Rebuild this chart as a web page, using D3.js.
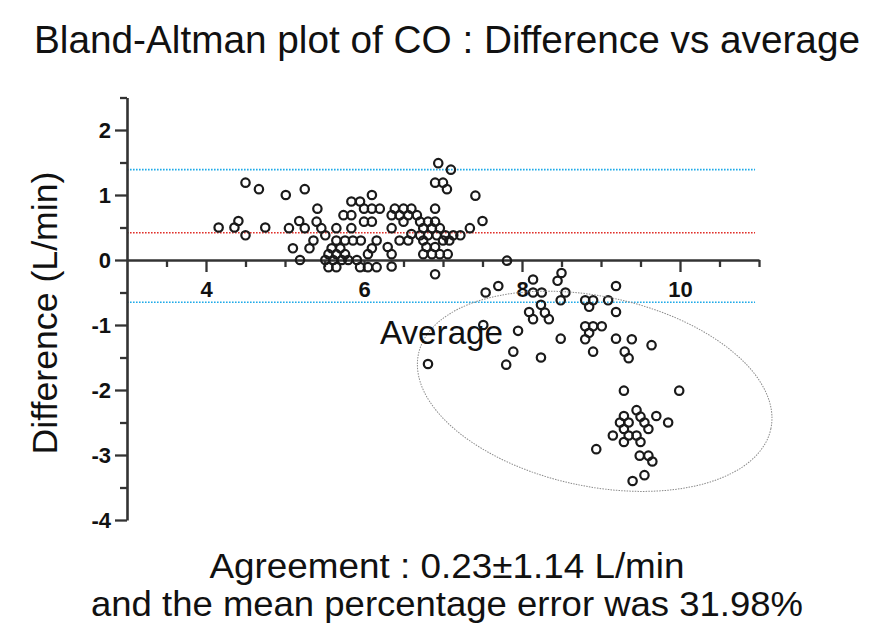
<!DOCTYPE html>
<html>
<head>
<meta charset="utf-8">
<script src="https://cdn.jsdelivr.net/npm/d3@7"></script>
<style>
  html, body { margin: 0; padding: 0; background: #fff; }
  svg { display: block; font-family: "Liberation Sans", Arial, sans-serif; }
</style>
</head>
<body>
<svg id="chart" width="874" height="627"></svg>
<script>
// ---- data ----
const averages = [
  4.16,4.36,4.41,4.50,4.50,4.67,4.75,5.01,5.05,5.10,5.18,5.19,
  5.25,6.10,5.41,5.84,5.95,6.00,6.10,6.20,5.74,5.84,6.00,6.10,5.40,5.25,5.46,5.65,5.84,5.51,
  5.36,5.65,5.76,5.86,5.96,6.16,5.31,5.59,5.70,6.10,5.55,5.65,5.76,6.05,5.51,5.61,5.72,5.80,5.91,
  5.55,5.65,5.95,6.05,6.16,
  6.94,7.10,6.90,7.00,7.05,7.41,6.39,6.50,6.60,6.90,6.35,6.45,6.56,6.67,6.50,6.71,6.81,6.90,7.50,
  6.35,6.75,6.86,6.96,7.34,6.60,6.71,6.81,6.92,7.03,7.13,7.22,6.45,6.56,6.75,7.00,7.08,6.30,6.79,6.90,
  6.35,6.75,6.86,6.96,7.06,6.35,6.90,
  7.81,8.50,8.45,8.14,7.70,7.54,8.14,8.25,8.55,8.49,8.09,8.24,8.29,8.14,8.34,8.80,8.90,8.85,9.09,9.19,9.19,
  7.51,8.80,8.90,9.01,8.85,8.80,9.19,7.95,8.49,7.89,8.90,8.24,7.80,6.81,9.39,9.30,9.35,9.64,
  9.29,9.99,9.45,9.29,9.50,9.70,9.24,9.35,9.55,9.85,9.29,9.60,9.15,9.35,9.45,9.29,9.50,8.94,9.49,9.60,9.65,9.55,9.40
];
const differences = [
  0.50,0.50,0.60,0.38,1.19,1.09,0.50,1.00,0.49,0.18,0.60,0.00,
  1.09,1.00,0.79,0.90,0.90,0.79,0.79,0.79,0.69,0.69,0.59,0.59,0.59,0.49,0.49,0.49,0.49,0.38,
  0.30,0.30,0.30,0.30,0.30,0.30,0.18,0.18,0.18,0.18,0.09,0.09,0.09,0.09,0.00,0.00,0.00,0.00,0.00,
  -0.11,-0.11,-0.11,-0.11,-0.11,
  1.49,1.39,1.19,1.19,1.09,0.99,0.79,0.79,0.79,0.79,0.69,0.69,0.69,0.69,0.59,0.59,0.59,0.59,0.60,
  0.49,0.49,0.49,0.49,0.49,0.40,0.38,0.38,0.38,0.38,0.38,0.38,0.30,0.30,0.30,0.30,0.30,0.20,0.20,0.20,
  0.09,0.09,0.09,0.09,0.09,-0.10,-0.22,
  -0.01,-0.20,-0.32,-0.30,-0.40,-0.50,-0.50,-0.50,-0.50,-0.62,-0.80,-0.69,-0.81,-0.91,-0.91,-0.62,-0.62,-0.72,-0.62,-0.40,-0.80,
  -1.00,-1.02,-1.02,-1.02,-1.12,-1.22,-1.21,-1.09,-1.21,-1.41,-1.41,-1.50,-1.61,-1.60,-1.22,-1.41,-1.51,-1.31,
  -2.01,-2.01,-2.31,-2.40,-2.41,-2.40,-2.50,-2.50,-2.50,-2.50,-2.60,-2.60,-2.70,-2.70,-2.70,-2.80,-2.80,-2.91,-3.01,-3.01,-3.10,-3.31,-3.40
];
const meanDiff = 0.42;
const upperLimit = 1.39;
const lowerLimit = -0.65;
const xMajorTicks = [4, 6, 8, 10];
const xMinorTicks = [3.5,4.5,5,5.5,6.5,7,7.5,8.5,9,9.5,10.5,11];
const yMajorTicks = [2, 1, 0, -1, -2, -3, -4];
const yMinorTicks = [2.5, 1.5, 0.5, -0.5, -1.5, -2.5, -3.5];
const ellipseCenter = [8.92, -2.02];
const ellipseRadii = [2.28, 1.46];
const ellipseAngle = 12;
const titleText = "Bland-Altman plot of CO : Difference vs average";
const xLabelText = "Average";
const yLabelText = "Difference (L/min)";
const noteLines = ["Agreement : 0.23\u00b11.14 L/min", "and the mean percentage error was 31.98%"];

// ---- scales ----
const svg = d3.select("#chart");
const x = d3.scaleLinear().domain([3, 11]).range([127, 759]);
const y = d3.scaleLinear().domain([-4, 2.5]).range([520, 97.5]);
const axisColor = "#333";

// reference lines
const lines = [
  {v: upperLimit, c: "#1faae8"},
  {v: meanDiff, c: "#e0302a"},
  {v: lowerLimit, c: "#1faae8"}
];
svg.append("g").selectAll("line").data(lines).join("line")
  .attr("x1", x(3)).attr("x2", x(10.95))
  .attr("y1", d => y(d.v)).attr("y2", d => y(d.v))
  .attr("stroke", d => d.c).attr("stroke-width", 1.6)
  .attr("stroke-dasharray", "1.6,1.4");

// axes
function styleAxis(g) {
  g.select(".domain").attr("stroke", axisColor).attr("stroke-width", 2.6);
  g.selectAll(".tick line").attr("stroke", axisColor).attr("stroke-width", 2.3);
  g.selectAll(".tick text").attr("fill", "#111")
    .style("font-size", "22px").style("font-weight", "bold")
    .style("font-family", '"Liberation Sans", Arial, sans-serif');
}
const gx = svg.append("g").attr("transform", `translate(0,${y(0)})`)
  .call(d3.axisBottom(x).tickValues(xMajorTicks).tickSize(12).tickSizeOuter(0).tickPadding(9).tickFormat(d => String(d)));
styleAxis(gx);
const gx2 = svg.append("g").attr("transform", `translate(0,${y(0)})`)
  .call(d3.axisBottom(x).tickValues(xMinorTicks).tickSize(7).tickSizeOuter(0).tickFormat(""));
styleAxis(gx2);
gx2.select(".domain").remove();

const gy = svg.append("g").attr("transform", `translate(${x(3)},0)`)
  .call(d3.axisLeft(y).tickValues(yMajorTicks).tickSize(12).tickSizeOuter(0).tickPadding(4).tickFormat(d => String(d)));
styleAxis(gy);
const gy2 = svg.append("g").attr("transform", `translate(${x(3)},0)`)
  .call(d3.axisLeft(y).tickValues(yMinorTicks).tickSize(7).tickSizeOuter(0).tickFormat(""));
styleAxis(gy2);
gy2.select(".domain").remove();

// points
svg.append("g").selectAll("circle").data(averages.map((a, i) => [a, differences[i]])).join("circle")
  .attr("cx", d => x(d[0])).attr("cy", d => y(d[1])).attr("r", 4.2)
  .attr("fill", "none").attr("stroke", "#1a1a1a").attr("stroke-width", 2.2);

// ellipse annotation
svg.append("ellipse")
  .attr("transform", `translate(${x(ellipseCenter[0])},${y(ellipseCenter[1])}) rotate(${ellipseAngle})`)
  .attr("rx", x(ellipseRadii[0]) - x(0)).attr("ry", y(0) - y(ellipseRadii[1]))
  .attr("fill", "none").attr("stroke", "#8a8a8a").attr("stroke-width", 1)
  .attr("stroke-dasharray", "1.5,1.2");

// x label
svg.append("text").attr("x", 380).attr("y", 344).text(xLabelText)
  .style("font-size", "33px").attr("fill", "#111")
  .attr("textLength", 123).attr("lengthAdjust", "spacingAndGlyphs");

// y label
svg.append("text").attr("transform", "translate(57,313) rotate(-90)")
  .attr("text-anchor", "middle").text(yLabelText)
  .style("font-size", "35px").attr("fill", "#111")
  .attr("textLength", 283).attr("lengthAdjust", "spacingAndGlyphs");

// title
svg.append("text").attr("x", 447).attr("y", 53).attr("text-anchor", "middle").text(titleText)
  .style("font-size", "38px").attr("fill", "#111")
  .attr("textLength", 826).attr("lengthAdjust", "spacingAndGlyphs");

// bottom notes
const noteWidths = [475, 712];
svg.append("g").selectAll("text").data(noteLines).join("text")
  .attr("x", 447).attr("y", (d, i) => 578 + i * 38)
  .attr("text-anchor", "middle").text(d => d)
  .style("font-size", "35px").attr("fill", "#111")
  .attr("textLength", (d, i) => noteWidths[i]).attr("lengthAdjust", "spacingAndGlyphs");
</script>
</body>
</html>
